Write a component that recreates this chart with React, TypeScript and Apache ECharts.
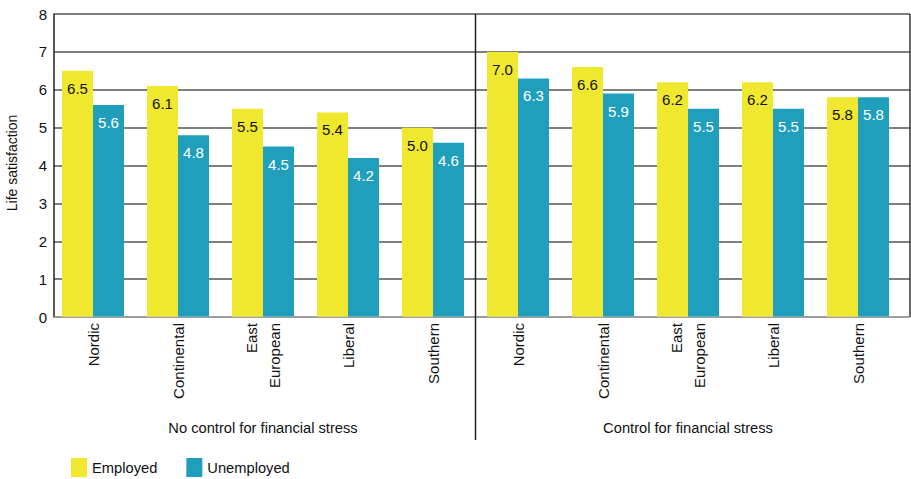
import React, { useEffect, useRef } from "react";
import * as echarts from "echarts";

const categories = [
  "Nordic", "Continental", "East\nEuropean", "Liberal", "Southern",
  "Nordic", "Continental", "East\nEuropean", "Liberal", "Southern",
];
const employed = [6.5, 6.1, 5.5, 5.4, 5.0, 7.0, 6.6, 6.2, 6.2, 5.8];
const unemployed = [5.6, 4.8, 4.5, 4.2, 4.6, 6.3, 5.9, 5.5, 5.5, 5.8];
const groupLabels = ["No control for financial stress", "Control for financial stress"];
const yTicks = [0, 1, 2, 3, 4, 5, 6, 7, 8];

const FONT = "Liberation Sans, Arial, Helvetica, sans-serif";
const YELLOW = "#F0E82E";
const TEAL = "#209FBD";

export default function App() {
  const ref = useRef<HTMLDivElement>(null);
  useEffect(() => {
    if (!ref.current) return;
    const chart = echarts.init(ref.current, undefined, { renderer: "svg" });
    const top = 14, h = 303;
    const bLeft = 50.5, bWidth = 850;
    const fmt = (p: any) => Number(p.value).toFixed(1);
    chart.setOption({
      animation: false,
      textStyle: { fontFamily: FONT },
      grid: [
        { left: 54, top, width: 856, height: h, show: false },
        { left: bLeft, top, width: bWidth, height: h, show: false },
      ],
      xAxis: [
        { gridIndex: 0, type: "value", min: 0, max: 1, show: false },
        {
          gridIndex: 1,
          type: "category",
          data: categories,
          axisLine: { show: false },
          axisTick: { show: false },
          axisLabel: {
            rotate: 90,
            interval: 0,
            margin: 6,
            fontSize: 15,
            color: "#111",
            fontFamily: FONT,
            lineHeight: 23,
          },
        },
      ],
      yAxis: [
        {
          gridIndex: 0,
          type: "value",
          min: yTicks[0],
          max: yTicks[yTicks.length - 1],
          interval: 1,
          axisLine: { show: true, lineStyle: { color: "#222", width: 1.5 } },
          axisTick: { show: false },
          axisLabel: { fontSize: 15, color: "#111", margin: 7, fontFamily: FONT },
          splitLine: { show: true, lineStyle: { color: "#555", width: 1.5 } },
        },
        { gridIndex: 1, type: "value", min: 0, max: 8, show: false },
      ],
      legend: {
        left: 71,
        top: 458,
        padding: 0,
        itemWidth: 16,
        itemHeight: 19,
        itemGap: 29,
        icon: "rect",
        textStyle: { fontSize: 14.7, color: "#111", fontFamily: FONT },
        data: ["Employed", "Unemployed"],
      },
      series: [
        {
          name: "Employed",
          type: "bar",
          xAxisIndex: 1,
          yAxisIndex: 1,
          data: employed,
          barWidth: 31,
          barGap: "0%",
          itemStyle: { color: YELLOW },
          label: {
            show: true,
            position: "insideTop",
            distance: 10,
            fontSize: 15,
            color: "#111",
            fontFamily: FONT,
            formatter: fmt,
          },
        },
        {
          name: "Unemployed",
          type: "bar",
          xAxisIndex: 1,
          yAxisIndex: 1,
          data: unemployed,
          barWidth: 31,
          barGap: "0%",
          itemStyle: { color: TEAL },
          label: {
            show: true,
            position: "insideTop",
            distance: 10,
            fontSize: 15,
            color: "#fff",
            fontFamily: FONT,
            formatter: fmt,
          },
        },
      ],
      graphic: [
        { type: "line", shape: { x1: 910, y1: top, x2: 910, y2: top + h }, style: { stroke: "#333", lineWidth: 1.5 }, z: 10 },
        { type: "line", shape: { x1: 54, y1: top + h, x2: 910, y2: top + h }, style: { stroke: "#bbb", lineWidth: 1 }, z: 10 },
        { type: "line", shape: { x1: bLeft + bWidth / 2, y1: top, x2: bLeft + bWidth / 2, y2: 440 }, style: { stroke: "#222", lineWidth: 1.5 }, z: 10 },
        {
          type: "text",
          x: bLeft + bWidth / 4,
          y: 428,
          style: { text: groupLabels[0], fontSize: 14.7, fill: "#111", align: "center", verticalAlign: "middle", fontFamily: FONT },
        },
        {
          type: "text",
          x: bLeft + (bWidth * 3) / 4,
          y: 428,
          style: { text: groupLabels[1], fontSize: 14.7, fill: "#111", align: "center", verticalAlign: "middle", fontFamily: FONT },
        },
        {
          type: "text",
          x: 12,
          y: 163,
          rotation: Math.PI / 2,
          style: { text: "Life satisfaction", fontSize: 14, fill: "#111", align: "center", verticalAlign: "middle", fontFamily: FONT },
        },
      ],
    });
    return () => chart.dispose();
  }, []);
  return <div ref={ref} style={{ width: 911, height: 479, position: "absolute", left: 0, top: 0 }} />;
}
